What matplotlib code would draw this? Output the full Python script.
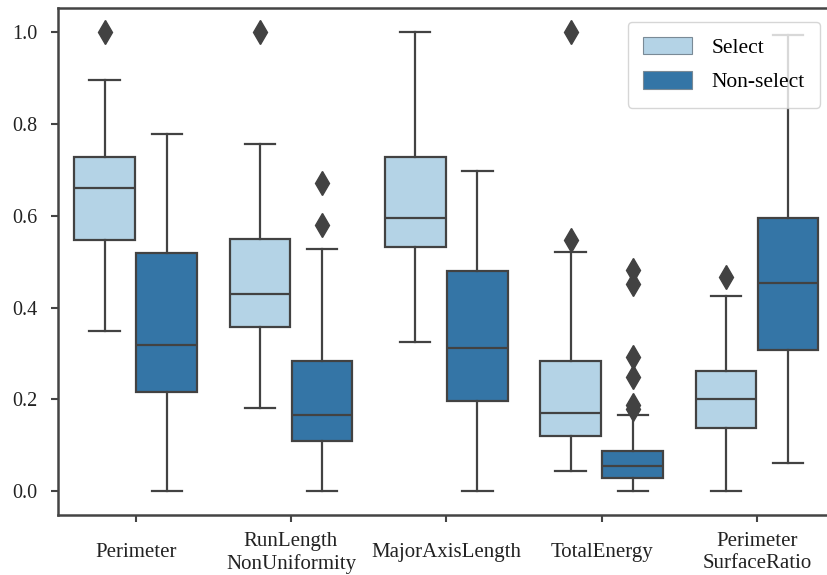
import matplotlib
matplotlib.use('Agg')
import matplotlib.pyplot as plt
from matplotlib.patches import Patch

plt.rcParams['font.family'] = ['Liberation Serif', 'DejaVu Serif']

features = ['Perimeter', 'RunLength\nNonUniformity', 'MajorAxisLength',
            'TotalEnergy', 'Perimeter\nSurfaceRatio']
groups = ['Select', 'Non-select']

# box statistics (normalised values)
sel_whislo = [0.349, 0.182, 0.324, 0.045, 0.0]
sel_q1 = [0.547, 0.358, 0.531, 0.121, 0.137]
sel_med = [0.661, 0.429, 0.596, 0.171, 0.201]
sel_q3 = [0.728, 0.550, 0.728, 0.283, 0.262]
sel_whishi = [0.895, 0.757, 1.0, 0.520, 0.425]
sel_fliers = [[1.0], [1.0], [], [1.0, 0.548], [0.467]]

non_whislo = [0.0, 0.0, 0.0, 0.0, 0.061]
non_q1 = [0.217, 0.110, 0.197, 0.030, 0.307]
non_med = [0.318, 0.166, 0.313, 0.055, 0.454]
non_q3 = [0.519, 0.283, 0.479, 0.088, 0.594]
non_whishi = [0.777, 0.527, 0.697, 0.166, 0.993]
non_fliers = [[], [0.672, 0.579], [],
              [0.481, 0.452, 0.293, 0.249, 0.188, 0.180], []]

colors = ['#b4d3e6', '#3475a6']
line_color = '#424242'


def make_stats(whislo, q1, med, q3, whishi, fliers):
    return [dict(whislo=a, q1=b, med=c, q3=d, whishi=e, fliers=f)
            for a, b, c, d, e, f in zip(whislo, q1, med, q3, whishi, fliers)]


fig = plt.figure(figsize=(8.28, 5.75), dpi=100)
ax = fig.add_axes([0.070, 0.104, 0.938, 0.882])

all_stats = [
    make_stats(sel_whislo, sel_q1, sel_med, sel_q3, sel_whishi, sel_fliers),
    make_stats(non_whislo, non_q1, non_med, non_q3, non_whishi, non_fliers),
]
offsets = [-0.2, 0.2]

for stats, off, col in zip(all_stats, offsets, colors):
    pos = [i + off for i in range(len(features))]
    lp = dict(color=line_color, linewidth=1.6)
    ax.bxp(stats, positions=pos, widths=0.39, patch_artist=True,
           showfliers=True, manage_ticks=False,
           boxprops=dict(facecolor=col, edgecolor=line_color, linewidth=1.6),
           medianprops=lp, whiskerprops=lp, capprops=lp,
           flierprops=dict(marker='d', markersize=12,
                           markerfacecolor=line_color,
                           markeredgecolor=line_color, linestyle='none'))

ax.set_xlim(-0.5, 4.5)
ax.set_ylim(-0.052, 1.052)
ax.set_xticks(range(len(features)))
ax.set_xticklabels(features, fontsize=15, color='#222222',
                   va='center', linespacing=1.2)
ax.set_yticks([0.0, 0.2, 0.4, 0.6, 0.8, 1.0])
ax.set_yticklabels(['0.0', '0.2', '0.4', '0.6', '0.8', '1.0'],
                   fontsize=14.5, color='#222222')
ax.tick_params(axis='x', length=5, width=1.5, color='#444444', pad=22)
ax.tick_params(axis='y', length=5, width=1.5, color='#444444', pad=10)
for s in ax.spines.values():
    s.set_color('#444444')
    s.set_linewidth(1.8)

handles = [Patch(facecolor=c, edgecolor='#7a8a96', linewidth=0.8)
           for c in colors]
leg = ax.legend(handles, groups, loc='upper right',
                bbox_to_anchor=(820 / 828, 1 - 22 / 575),
                bbox_transform=fig.transFigure, borderaxespad=0,
                fontsize=15.5, handlelength=2.3, handleheight=0.85,
                labelspacing=0.62, handletextpad=0.9, borderpad=0.7,
                framealpha=0.8, edgecolor='#cccccc')

fig.savefig('out.png', dpi=100)
